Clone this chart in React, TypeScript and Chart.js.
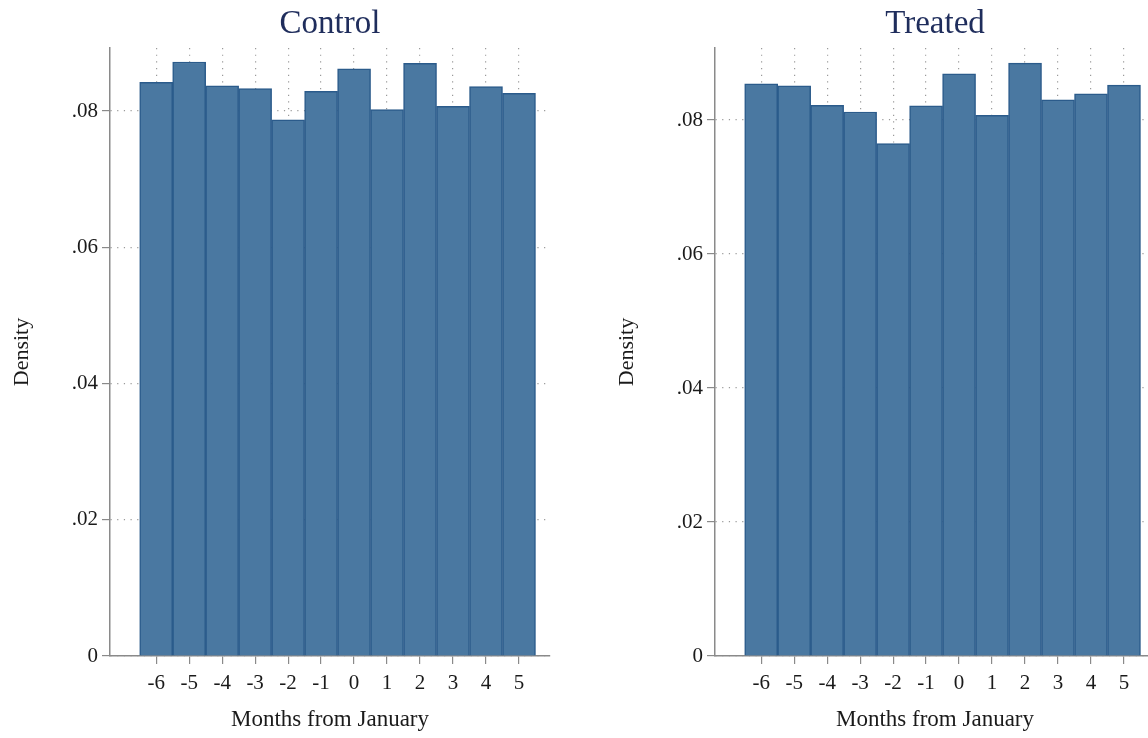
import React, { useEffect, useRef } from "react";
import { Chart, registerables } from "chart.js";

Chart.register(...registerables);

// Months relative to January (bin centres)
const months = [-6, -5, -4, -3, -2, -1, 0, 1, 2, 3, 4, 5];

// Histogram densities per month
const controlDensity = [0.0842, 0.0872, 0.0837, 0.0833, 0.0787, 0.0829, 0.0862, 0.0802, 0.087, 0.0807, 0.0836, 0.0826];
const treatedDensity = [0.0854, 0.0851, 0.0822, 0.0812, 0.0765, 0.0821, 0.0869, 0.0807, 0.0885, 0.0830, 0.0839, 0.0852];

const yTickValues = [0, 0.02, 0.04, 0.06, 0.08];

const FONT = "'Liberation Serif', 'Times New Roman', serif";
const TEXT = "#1a1a1a";
const AXIS = "#8a8a8a";
const GRID = "#9a9a9a";
const BAR_FILL = "#4a78a1";
const BAR_EDGE = "#2b5b8b";
const TITLE_COLOR = "#1f2d5c";

const fmtY = (v: number) => (v === 0 ? "0" : v.toFixed(2).replace(/^0/, ""));

const panelTitle = {
  id: "panelTitle",
  afterDraw(chart: any, _args: any, opts: any) {
    const { ctx, chartArea } = chart;
    ctx.save();
    ctx.font = `33px ${FONT}`;
    ctx.fillStyle = TITLE_COLOR;
    ctx.textAlign = "center";
    ctx.textBaseline = "middle";
    ctx.fillText(opts.text, (chartArea.left + chartArea.right) / 2, 24);
    ctx.restore();
  },
};

function Panel({ title, values, yMax, left }: { title: string; values: number[]; yMax: number; left: number }) {
  const ref = useRef<HTMLCanvasElement>(null);
  useEffect(() => {
    if (!ref.current) return;
    const chart = new Chart(ref.current, {
      type: "bar",
      data: {
        datasets: [
          {
            data: months.map((m, i) => ({ x: m, y: values[i] })),
            backgroundColor: BAR_FILL,
            borderColor: BAR_EDGE,
            borderWidth: 1.5,
            barPercentage: 1,
            categoryPercentage: 1,
          },
        ],
      },
      options: {
        responsive: false,
        animation: false,
        devicePixelRatio: 1,
        layout: { padding: { top: 48, right: 25, left: 0, bottom: 0 } },
        plugins: {
          legend: { display: false },
          tooltip: { enabled: false },
          panelTitle: { text: title },
        } as any,
        scales: {
          x: {
            type: "linear",
            min: -7.4,
            max: 5.94,
            offset: false,
            afterBuildTicks: (s: any) => {
              s.ticks = months.map((m) => ({ value: m }));
            },
            afterFit: (s: any) => {
              s.height = 82;
            },
            ticks: {
              color: TEXT,
              font: { family: FONT, size: 21 },
              padding: 7,
              maxRotation: 0,
              autoSkip: false,
              callback: (v: any) => String(v),
            },
            grid: {
              offset: false,
              color: GRID,
              lineWidth: 1.2,
              tickBorderDash: [],
              tickColor: AXIS,
              tickWidth: 1.2,
              tickLength: 8,
            } as any,
            border: { color: AXIS, width: 1.5, dash: [1.2, 5.47] },
            title: {
              display: true,
              text: "Months from January",
              color: TEXT,
              font: { family: FONT, size: 23 },
              padding: { top: 0, bottom: 4 },
            },
          },
          y: {
            min: 0,
            max: yMax,
            afterBuildTicks: (s: any) => {
              s.ticks = yTickValues.map((v) => ({ value: v }));
            },
            afterFit: (s: any) => {
              s.width = 110;
            },
            ticks: {
              color: TEXT,
              font: { family: FONT, size: 21 },
              padding: 4,
              callback: (v: any) => fmtY(Number(v)),
            },
            grid: {
              color: GRID,
              lineWidth: 1.2,
              tickBorderDash: [],
              tickColor: AXIS,
              tickWidth: 1.2,
              tickLength: 8,
            } as any,
            border: { color: AXIS, width: 1.5, dash: [1.2, 5.47] },
            title: {
              display: true,
              text: "Density",
              color: TEXT,
              font: { family: FONT, size: 22 },
              padding: { top: 9, bottom: 0 },
            },
          },
        },
      },
      plugins: [panelTitle],
    });
    return () => chart.destroy();
  }, [title, values, yMax]);

  return (
    <canvas
      ref={ref}
      width={575}
      height={738}
      style={{ position: "absolute", left, top: 0, width: 575, height: 738 }}
    />
  );
}

export default function App() {
  return (
    <div
      style={{
        position: "absolute",
        left: 0,
        top: 0,
        width: 1148,
        height: 738,
        overflow: "hidden",
        background: "#ffffff",
      }}
    >
      <Panel title="Control" values={controlDensity} yMax={0.08925} left={0} />
      <Panel title="Treated" values={treatedDensity} yMax={0.09075} left={605} />
    </div>
  );
}
